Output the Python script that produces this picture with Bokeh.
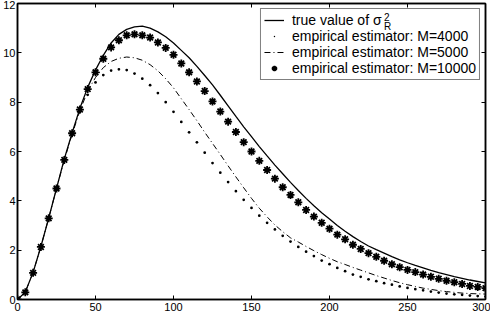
from bokeh.plotting import figure
from bokeh.models import Range1d, LinearAxis, FixedTicker, Legend, LegendItem, ColumnDataSource
from bokeh.core.properties import value
from bokeh.embed import file_html
from bokeh.resources import INLINE

# ---- data ----
x = list(range(0, 301, 5))

true_value = [0, 0.3, 1.1, 2.15, 3.3, 4.5, 5.7, 6.75, 7.75, 8.6, 9.3, 9.9, 10.4, 10.75, 10.95,
              11.05, 11.08, 11.0, 10.85, 10.65, 10.4, 10.1, 9.8, 9.45, 9.08, 8.7, 8.28, 7.85,
              7.42, 7.0, 6.6, 6.2, 5.82, 5.45, 5.1, 4.75, 4.42, 4.1, 3.8, 3.52, 3.26, 3.0, 2.77,
              2.55, 2.35, 2.17, 2.02, 1.88, 1.74, 1.61, 1.49, 1.38, 1.28, 1.18, 1.09, 1.01, 0.93,
              0.86, 0.79, 0.73, 0.67, 0.62]

m4000 = [0, 0.3, 1.1, 2.15, 3.3, 4.5, 5.65, 6.7, 7.6, 8.3, 8.8, 9.1, 9.28, 9.33, 9.3, 9.16,
         8.95, 8.69, 8.37, 8.0, 7.61, 7.2, 6.78, 6.37, 5.95, 5.53, 5.14, 4.76, 4.39, 4.04,
         3.71, 3.4, 3.11, 2.84, 2.58, 2.35, 2.13, 1.94, 1.76, 1.58, 1.43, 1.28, 1.15, 1.01,
         0.92, 0.82, 0.74, 0.66, 0.6, 0.53, 0.47, 0.42, 0.37, 0.32, 0.28, 0.24, 0.21, 0.19,
         0.16, 0.14, 0.12]

m5000 = [0, 0.3, 1.1, 2.15, 3.3, 4.5, 5.65, 6.7, 7.65, 8.45, 9.0, 9.4, 9.65, 9.78, 9.83, 9.8,
         9.7, 9.52, 9.27, 8.95, 8.58, 8.14, 7.7, 7.25, 6.78, 6.33, 5.88, 5.42, 4.97, 4.53,
         4.1, 3.7, 3.35, 3.02, 2.75, 2.5, 2.33, 2.15, 1.98, 1.82, 1.67, 1.53, 1.42, 1.3, 1.19,
         1.08, 0.97, 0.87, 0.77, 0.68, 0.6, 0.53, 0.46, 0.41, 0.36, 0.32, 0.29, 0.26, 0.24,
         0.23, 0.22]

m10000 = [0, 0.29, 1.08, 2.13, 3.29, 4.5, 5.66, 6.74, 7.7, 8.53, 9.21, 9.76, 10.22, 10.51,
          10.71, 10.75, 10.71, 10.62, 10.42, 10.2, 9.92, 9.57, 9.21, 8.84, 8.45, 8.03, 7.62,
          7.21, 6.79, 6.38, 6.0, 5.62, 5.25, 4.9, 4.55, 4.24, 3.94, 3.63, 3.36, 3.11, 2.87,
          2.63, 2.44, 2.22, 2.05, 1.88, 1.73, 1.57, 1.43, 1.31, 1.2, 1.11, 1.01, 0.92, 0.84,
          0.76, 0.7, 0.63, 0.55, 0.51, 0.46]

x_ticks = [0, 50, 100, 150, 200, 250, 300]
y_ticks = [0, 2, 4, 6, 8, 10, 12]

labels = ["true value of \u03c3", "empirical estimator: M=4000",
          "empirical estimator: M=5000", "empirical estimator: M=10000"]
sigma_scripts = ["2", "R"]

FONT = "Liberation Sans"

p = figure(width=487, height=311, output_backend="svg", toolbar_location=None,
           x_range=Range1d(0, 300), y_range=Range1d(0, 12),
           frame_width=468, frame_height=296,
           min_border_left=14, min_border_right=5, min_border_top=3, min_border_bottom=12)
p.grid.visible = False
p.outline_line_color = "black"
p.outline_line_width = 1.5
p.background_fill_color = "white"
p.border_fill_color = "white"

for ax in (p.xaxis[0], p.yaxis[0]):
    ax.axis_line_width = 1.5
    ax.axis_line_color = "black"
    ax.major_tick_in = 4
    ax.major_tick_out = 0
    ax.minor_tick_line_color = None
    ax.major_tick_line_color = "black"
    ax.major_label_text_font = FONT
    ax.major_label_text_font_size = "11px"
    ax.major_label_text_color = "black"
    ax.major_label_standoff = 3
p.xaxis[0].ticker = FixedTicker(ticks=x_ticks)
p.yaxis[0].ticker = FixedTicker(ticks=y_ticks)
p.yaxis[0].major_label_standoff = 2

top = LinearAxis(ticker=FixedTicker(ticks=x_ticks), major_tick_in=4, major_tick_out=0,
                 minor_tick_line_color=None, major_label_text_color=None,
                 major_label_text_font_size="1px", major_label_standoff=0, axis_line_width=1.5)
right = LinearAxis(ticker=FixedTicker(ticks=y_ticks), major_tick_in=4, major_tick_out=0,
                   minor_tick_line_color=None, major_label_text_color=None,
                   major_label_text_font_size="1px", major_label_standoff=0, axis_line_width=1.5)
p.add_layout(top, "above")
p.add_layout(right, "right")

r_true = p.line(x, true_value, line_color="black", line_width=1.3)
r_4000 = p.scatter(x, m4000, marker="dot", size=11, line_color="black", fill_color="black")
r_5000 = p.line(x, m5000, line_color="black", line_width=1.0, line_dash="6 3 1 3")
r_10000 = p.scatter(x, m10000, marker="asterisk", size=8, line_color="black", line_width=1.8)

# superscript / subscript of sigma in the first legend entry
script_src = ColumnDataSource(dict(x=[235, 235], y=[11.47, 11.08], t=sigma_scripts))
p.text(x="x", y="y", text="t", source=script_src, text_font=value(FONT),
       text_font_size="10px", text_baseline="middle", text_color="black")

legend = Legend(items=[LegendItem(label=labels[0], renderers=[r_true]),
                       LegendItem(label=labels[1], renderers=[r_4000]),
                       LegendItem(label=labels[2], renderers=[r_5000]),
                       LegendItem(label=labels[3], renderers=[r_10000])],
                location="top_right")
legend.label_text_font = FONT
legend.label_text_font_size = "14px"
legend.label_text_line_height = 1.0
legend.label_text_color = "black"
legend.label_height = 14
legend.glyph_height = 14
legend.glyph_width = 20
legend.label_standoff = 8
legend.spacing = 0
legend.padding = 3
legend.margin = 5
legend.border_line_color = "black"
legend.border_line_width = 1.5
legend.background_fill_color = None
legend.background_fill_alpha = 0
p.add_layout(legend, "center")

open("out.html", "w").write(file_html(p, INLINE))
